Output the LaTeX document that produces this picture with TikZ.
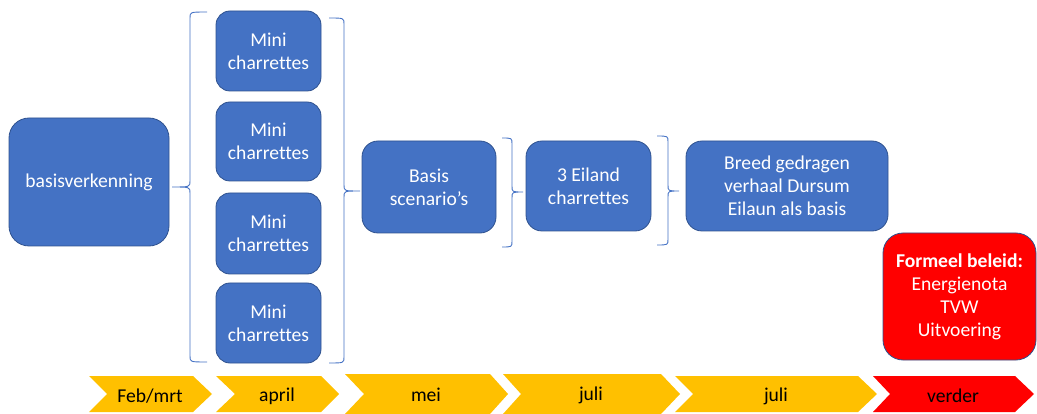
\documentclass[tikz,border=0pt]{standalone}
\usepackage{fontspec}
\setmainfont{Carlito}[Ligatures={NoCommon}]
\definecolor{boxblue}{HTML}{4472C4}
\definecolor{boxedge}{HTML}{2F528F}
\definecolor{chevyellow}{HTML}{FFC000}
\definecolor{chevred}{HTML}{FF0000}
\newcommand\drawmybrace[6]{%
  \draw[bracestyle] (#1,#4) .. controls (#2,#4) .. (#2,{#4+6}) -- (#2,{#5-6})
    .. controls (#2,#5) .. (#3,#5) .. controls (#2,#5) .. (#2,{#5+6})
    -- (#2,{#6-6}) .. controls (#2,#6) .. (#1,#6);}
\tikzset{
  boxtext/.style={font=\fontsize{19.6}{23}\selectfont},
  bluebox/.style={draw=boxedge, line width=0.8pt, fill=boxblue, text=white,
    align=center, inner sep=0pt, boxtext},
  redbox/.style={draw=boxedge, line width=0.8pt, fill=chevred, text=white,
    align=center, inner sep=0pt, boxtext},
  bracestyle/.style={draw=boxblue, line width=0.9pt},
  chevfill/.style={fill=#1, draw=none},
  chevlabel/.style={text=black, inner sep=0pt, boxtext},
}
\begin{document}
\begin{tikzpicture}[x=1pt,y=-1pt]
\useasboundingbox (0,0) rectangle (1037,414);

% boxes
\node[bluebox, rounded corners=20pt, minimum width=160pt, minimum height=128pt] (basis) at (89,182) {basisverkenning};
\node[bluebox, rounded corners=14pt, minimum width=105pt, minimum height=80pt] (mini1) at (268.5,51) {Mini\\charrettes};
\node[bluebox, rounded corners=14pt, minimum width=105pt, minimum height=79pt] (mini2) at (268.5,141.5) {Mini\\charrettes};
\node[bluebox, rounded corners=14pt, minimum width=105pt, minimum height=81pt] (mini3) at (268.5,233.5) {Mini\\charrettes};
\node[bluebox, rounded corners=14pt, minimum width=105pt, minimum height=80pt] (mini4) at (268.5,323) {Mini\\charrettes};
\node[bluebox, rounded corners=16pt, minimum width=134pt, minimum height=92pt] (scen) at (429,187) {Basis\\scenario’s};
\node[bluebox, rounded corners=16pt, minimum width=125pt, minimum height=90pt] (eiland) at (588.5,186) {3 Eiland\\charrettes};
\node[bluebox, rounded corners=16pt, minimum width=202pt, minimum height=90pt] (breed) at (787,186) {Breed gedragen\\verhaal Dursum\\Eilaun als basis};
\node[redbox, rounded corners=20pt, minimum width=153pt, minimum height=127pt] (formeel) at (959.5,296.5) {\textbf{Formeel beleid:}\\Energienota\\TVW\\Uitvoering};

% braces
\drawmybrace{207}{190}{172}{12}{187}{362}
\drawmybrace{329}{344}{360}{18}{191}{363}
\drawmybrace{502}{512}{523}{138}{192}{247}
\drawmybrace{657}{668}{679}{136}{191}{245}

% chevrons
\fill[chevfill=chevyellow] (89,376) -- (193,376) -- (212,394) -- (193,412) -- (89,412) -- (107,394) -- cycle;
\node[chevlabel] (m1) at (150,396) {Feb/mrt};
\fill[chevfill=chevyellow] (216,376) -- (321,376) -- (339,394) -- (321,412) -- (216,412) -- (235,394) -- cycle;
\node[chevlabel] (m2) at (277,396) {april};
\fill[chevfill=chevyellow] (345,374) -- (490,374) -- (508,394) -- (490,414) -- (345,414) -- (364,394) -- cycle;
\node[chevlabel] (m3) at (426,395) {mei};
\fill[chevfill=chevyellow] (503,374) -- (661,374) -- (680,394) -- (661,414) -- (503,414) -- (521,394) -- cycle;
\node[chevlabel] (m4) at (591,395) {juli};
\fill[chevfill=chevyellow] (675,376) -- (858,376) -- (877,394) -- (858,412) -- (675,412) -- (693,394) -- cycle;
\node[chevlabel] (m5) at (776,396) {juli};
\fill[chevfill=chevred] (873,376) -- (1015,376) -- (1034,394) -- (1015,412) -- (873,412) -- (890,394) -- cycle;
\node[chevlabel] (m6) at (953,396) {verder};
\end{tikzpicture}
\end{document}
